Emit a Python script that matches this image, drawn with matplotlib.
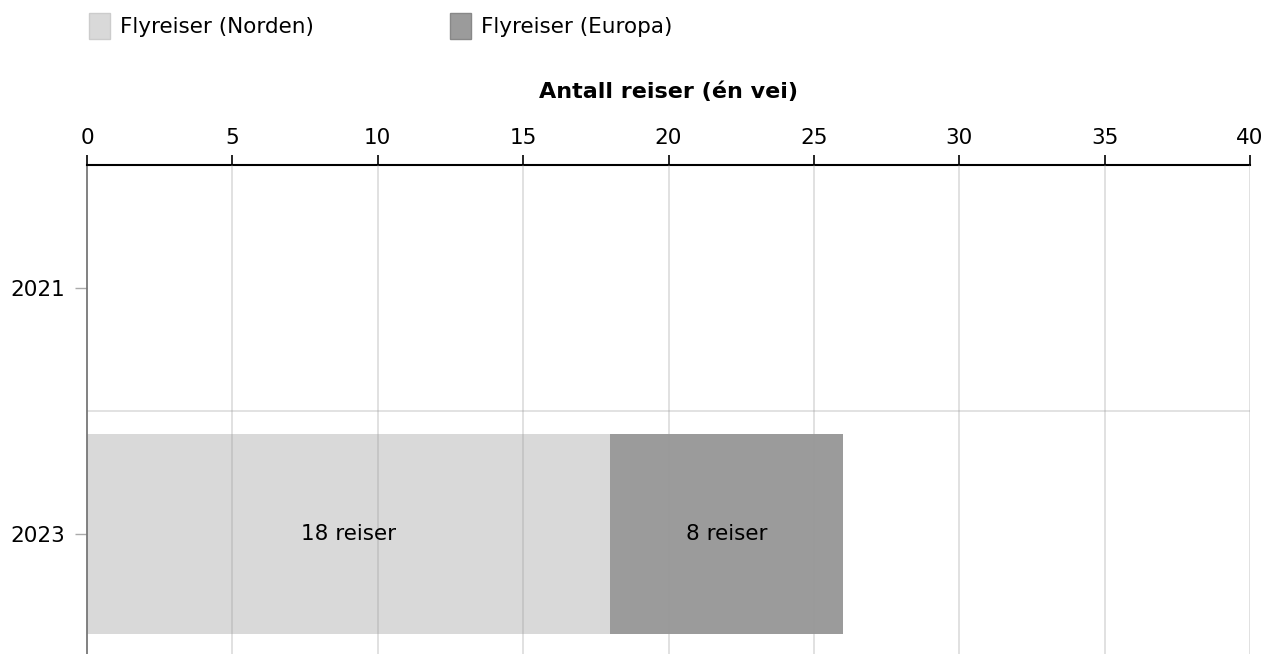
import matplotlib.pyplot as plt
from matplotlib.patches import Patch

# data
years = ["2021", "2023"]
norden = [0, 18]
europa = [0, 8]
labels_norden = ["", "18 reiser"]
labels_europa = ["", "8 reiser"]
xticks = [0, 5, 10, 15, 20, 25, 30, 35, 40]

plt.rcParams['font.family'] = ['Verdana', 'DejaVu Sans']

fig = plt.figure(figsize=(12.79, 6.54), dpi=100)
ax = fig.add_axes([87 / 1279, -3 / 654, (1250 - 87) / 1279, (654 - 162) / 654])

c_norden = "#d9d9d9"
c_europa = "#9b9b9b"

pos = list(range(len(years)))
ax.barh(pos, norden, height=0.81, color=c_norden, zorder=2)
ax.barh(pos, europa, left=norden, height=0.81, color=c_europa, zorder=2)

for i in pos:
    if norden[i] > 0:
        ax.text(norden[i] / 2, i, labels_norden[i], ha="center", va="center",
                fontsize=15.5, zorder=4)
    if europa[i] > 0:
        ax.text(norden[i] + europa[i] / 2, i, labels_europa[i], ha="center",
                va="center", fontsize=15.5, zorder=4)

ax.set_xlim(0, 40)
ax.set_ylim(1.5, -0.5)
ax.set_yticks(pos)
ax.set_yticklabels(years)
ax.set_xticks(xticks)
ax.xaxis.tick_top()
ax.xaxis.set_label_position("top")
ax.set_xlabel("Antall reiser (én vei)", fontsize=16, fontweight="bold", labelpad=22)

ax.tick_params(axis="x", length=7, width=1.2, color="black", labelsize=15.5, pad=5)
ax.tick_params(axis="y", length=9, width=1, color="#aaaaaa", labelsize=15.5, pad=7)

for x in xticks[1:]:
    ax.axvline(x, color="#999999", alpha=0.35, lw=1.2, zorder=3)
ax.axhline(0.5, color="#dddddd", lw=1.2, zorder=1)

ax.spines["top"].set_color("black")
ax.spines["top"].set_linewidth(1.5)
ax.spines["left"].set_color("#777777")
ax.spines["left"].set_linewidth(1.3)
ax.spines["right"].set_visible(False)
ax.spines["bottom"].set_visible(False)

handles = [Patch(facecolor=c_norden, edgecolor="#cccccc", label="Flyreiser (Norden)"),
           Patch(facecolor=c_europa, edgecolor="#888888", label="Flyreiser (Europa)")]
fig.legend(handles=handles, loc="upper left", bbox_to_anchor=(76 / 1279, 1.0),
           ncol=2, frameon=False, fontsize=15.5, handlelength=1.0, handleheight=1.5,
           handletextpad=0.45, columnspacing=6.3, borderaxespad=0.2)

fig.savefig("out.png", dpi=100)
